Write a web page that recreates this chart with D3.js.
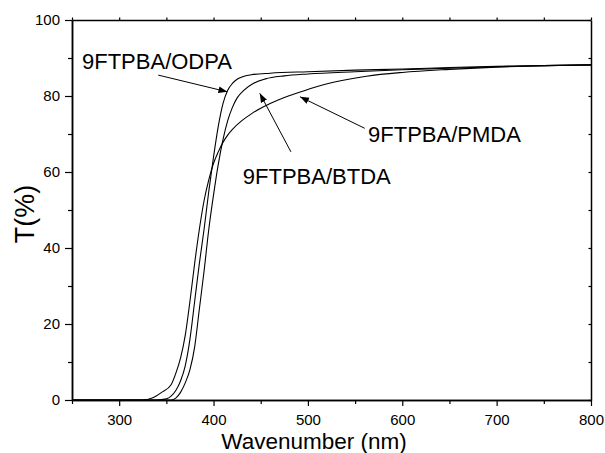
<!DOCTYPE html>
<html><head><meta charset="utf-8">
<script src="https://cdn.jsdelivr.net/npm/d3@7/dist/d3.min.js"></script>
<style>body{margin:0;background:#fff}svg{display:block}text{font-family:"Liberation Sans",Arial,sans-serif;fill:#000}</style>
</head><body><svg id="c" width="605" height="453"></svg>
<script>
// wavelength (nm) and transmittance (%) per series
const odpaX = [250,340,350,355,360,365,370,375,380,385,390,395,400,405,410,415,420,425,430,440,460,500,550,600,650,700,750,800];
const odpaY = [0,0,0.3,1,2.5,5,9,16,26,36,45,55,64,72,78,81.5,83.3,84.4,85,85.6,86,86.4,86.8,87.1,87.5,87.8,88,88.2];
const btdaX = [250,355,360,365,370,375,380,385,390,395,400,405,410,415,420,425,432,442,455,475,500,550,600,650,700,750,800];
const btdaY = [0,0,0.5,2,4.5,8,14,24,34,45,54,62,68.5,73.5,77,79.5,81.5,83.3,84.5,85.3,85.8,86.4,86.9,87.3,87.7,88,88.2];
const pmdaX = [250,325,335,345,355,360,365,370,375,380,385,390,395,400,405,410,415,420,430,440,450,460,475,490,510,527,562,600,650,700,750,800];
const pmdaY = [0,0,0.5,2,4,7,11,17,26,36,45,52.5,58,62.3,65.3,67.8,69.7,71.2,73.5,75.3,76.8,78,79.6,80.9,82.5,83.6,85.2,86.2,87,87.6,88,88.2];
const seriesNames = ["9FTPBA/ODPA","9FTPBA/BTDA","9FTPBA/PMDA"];
// annotation: label anchor (nm, %) and arrow from/to (nm, %)
const labelNm = [260.6, 431, 563.7];
const labelPct = [87.2, 56.8, 67.9];
const arrowFromNm = [341.4, 482, 560.2];
const arrowFromPct = [85.5, 65.3, 71.5];
const arrowToNm = [414.7, 449, 491.6];
const arrowToPct = [81.1, 80.7, 79.8];
const xMajor = [300,400,500,600,700,800];
const xMinor = [250,350,450,550,650,750];
const yMajor = [0,20,40,60,80,100];
const yMinor = [10,30,50,70,90];

const svg = d3.select("#c");
const L=72, R=591, T=20, B=400;
const x = d3.scaleLinear().domain([250,800]).range([L,R]);
const y = d3.scaleLinear().domain([0,100]).range([B,T]);

const defs = svg.append("defs");
defs.append("marker").attr("id","ah").attr("viewBox","0 0 10 10").attr("refX",10).attr("refY",5)
 .attr("markerWidth",9).attr("markerHeight",9).attr("markerUnits","userSpaceOnUse").attr("orient","auto")
 .append("path").attr("d","M0,1.2L10,5L0,8.8Z").attr("fill","#000");

// curves
const line = d3.line().x(d=>x(d[0])).y(d=>y(d[1])).curve(d3.curveMonotoneX);
[[odpaX,odpaY],[btdaX,btdaY],[pmdaX,pmdaY]].forEach(([xs,ys])=>{
  svg.append("path").datum(xs.map((v,i)=>[v,ys[i]])).attr("d",line)
   .attr("fill","none").attr("stroke","#000").attr("stroke-width",1.1);
});

// axes
const ax = (g, axis) => { g.call(axis); g.select(".domain").attr("stroke","#000").attr("stroke-width",1.5); g.selectAll(".tick line").attr("stroke","#000").attr("stroke-width",1.2); return g; };
const bottom = svg.append("g").attr("transform",`translate(0,${B})`);
ax(bottom, d3.axisBottom(x).tickValues(xMajor).tickSize(6).tickSizeOuter(0).tickPadding(8));
bottom.selectAll("text").attr("font-size",15).style("font-family","Liberation Sans,Arial");
ax(svg.append("g").attr("transform",`translate(0,${B})`), d3.axisBottom(x).tickValues(xMinor).tickSize(4).tickSizeOuter(0).tickFormat(""));
const left = svg.append("g").attr("transform",`translate(${L},0)`);
ax(left, d3.axisLeft(y).tickValues(yMajor).tickSize(7).tickSizeOuter(0).tickPadding(5));
left.selectAll("text").attr("font-size",15).style("font-family","Liberation Sans,Arial");
ax(svg.append("g").attr("transform",`translate(${L},0)`), d3.axisLeft(y).tickValues(yMinor).tickSize(4).tickSizeOuter(0).tickFormat(""));
ax(svg.append("g").attr("transform",`translate(0,${T})`), d3.axisBottom(x).tickValues(xMajor.concat(xMinor)).tickSize(-2.5).tickSizeOuter(0).tickFormat(""));
ax(svg.append("g").attr("transform",`translate(${R},0)`), d3.axisRight(y).tickValues(yMajor.concat(yMinor)).tickSize(-2.5).tickSizeOuter(0).tickFormat(""));

// titles
svg.append("text").attr("x",314).attr("y",449).attr("text-anchor","middle").attr("font-size",22.5).text("Wavenumber (nm)");
svg.append("text").attr("transform","translate(33.5,214) rotate(-90)").attr("text-anchor","middle").attr("font-size",27).text("T(%)");

// annotations
seriesNames.forEach((n,i)=>{
  svg.append("text").attr("x",x(labelNm[i])).attr("y",y(labelPct[i])).attr("font-size",22).text(n);
  svg.append("line").attr("x1",x(arrowFromNm[i])).attr("y1",y(arrowFromPct[i])).attr("x2",x(arrowToNm[i])).attr("y2",y(arrowToPct[i]))
   .attr("stroke","#000").attr("stroke-width",1).attr("marker-end","url(#ah)");
});
</script></body></html>
